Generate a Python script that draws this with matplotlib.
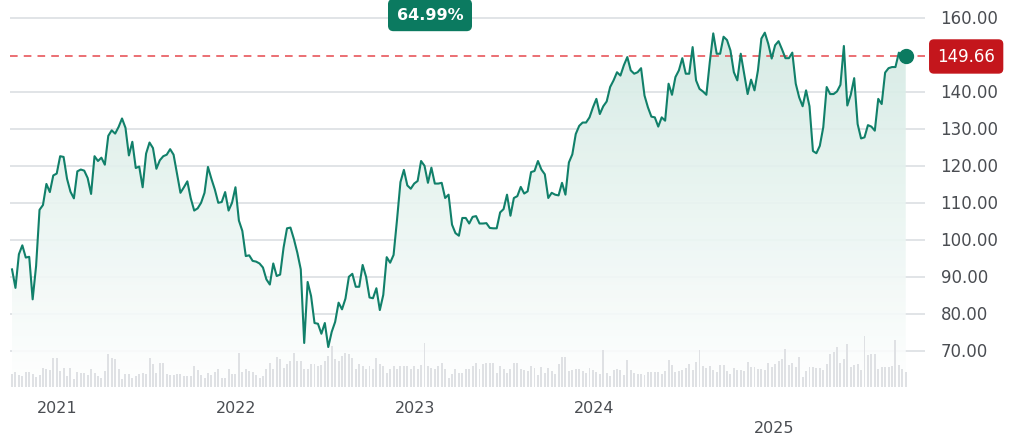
import numpy as np
import pandas as pd
import matplotlib.pyplot as plt
import matplotlib.dates as mdates
from matplotlib.patches import Polygon
from matplotlib.colors import LinearSegmentedColormap

# weekly closes
prices = [
    92.1, 87.1, 96.2, 98.6, 95.3, 95.5, 84.0, 93.0, 108.2, 109.5, 115.2, 113.0, 117.5, 118.0,
    122.7, 122.5, 116.6, 113.1, 111.3, 118.6, 119.1, 118.8, 116.8, 112.5, 122.7, 121.4, 122.3,
    120.4, 128.2, 129.7, 128.8, 130.6, 132.9, 130.4, 122.9, 126.6, 119.5, 119.9, 114.3, 123.4,
    126.4, 124.9, 119.3, 121.6, 122.7, 123.1, 124.6, 123.1, 117.9, 112.8, 114.3, 115.9, 111.3,
    108.0, 108.6, 110.1, 112.8, 119.8, 116.6, 113.7, 110.1, 110.3, 113.0, 108.0, 110.1, 114.3,
    105.3, 102.5, 95.7, 95.9, 94.4, 94.2, 93.7, 92.6, 89.4, 88.0, 93.7, 90.3, 90.7, 98.0,
    103.2, 103.4, 100.3, 96.6, 92.1, 72.2, 88.7, 84.9, 77.6,
    77.4, 74.7, 77.6, 71.1, 75.2, 77.9, 83.1, 81.3, 84.2, 90.1, 90.9, 87.4, 87.4, 93.3, 90.1,
    84.5, 84.3, 87.0, 81.1, 85.2, 95.4, 93.9, 96.0, 105.5, 115.7, 119.0, 114.8, 113.9, 115.3,
    116.0, 121.4, 120.1, 115.5, 119.6, 115.3, 115.3, 115.5, 111.4, 112.3, 104.2, 101.9, 101.2,
    106.0, 106.0, 104.5, 106.3, 106.5, 104.5, 104.5, 104.6, 103.3, 103.2, 103.2, 107.5, 108.4,
    112.3, 106.6, 111.4, 111.9, 114.4, 112.6, 113.2, 118.4, 118.7, 121.4, 119.1, 117.8, 111.4,
    112.8, 112.3, 112.1, 115.5, 112.3, 121.0, 123.2, 128.7, 130.9, 131.8, 131.8, 133.2, 135.9,
    138.2, 134.1, 136.2, 137.5, 141.4, 143.2, 145.4, 144.5,
    147.3, 149.5, 145.9, 145.0, 145.4, 146.5, 139.1, 135.9, 133.4, 133.2, 130.7, 133.2, 132.3,
    142.3, 139.3, 144.1, 145.9, 149.2, 145.0, 145.0, 152.2, 143.2, 140.9, 140.2, 139.3, 148.2,
    155.9, 150.4, 150.4, 155.0, 154.1, 151.3, 145.4, 143.2, 150.4, 145.0, 139.5, 143.4, 140.5,
    145.9, 154.5, 156.1, 153.1, 149.1, 152.7, 153.8, 151.6, 149.2, 149.2, 150.7, 142.3, 138.6,
    136.2, 140.5, 136.2, 124.1, 123.5, 125.5, 130.5, 141.4, 139.5, 139.5, 140.2, 142.0, 152.5,
    136.4, 139.3, 143.8, 131.4, 127.5, 127.8, 131.1, 130.7, 129.6, 138.2, 136.8, 145.3, 146.5,
    146.8, 146.8, 150.7, 149.5, 149.66,
]

# weekly volume (relative units)
volume = [
    13, 15, 12, 11,
    15, 15, 13, 10, 12, 19, 18, 17, 29, 29, 16, 19, 11, 19, 8, 15, 14, 14, 12, 18, 14, 11, 9, 16,
    33, 29, 28, 18, 8, 13, 13, 9, 11, 13, 14, 13, 29, 23, 14, 24, 24, 13, 12, 12, 13, 13, 11, 11,
    11, 21, 17, 12, 9, 14, 12, 15, 18, 9, 9, 18, 13, 13, 34, 15, 18, 16, 15, 12, 9, 11, 18, 24,
    18, 30, 28, 19, 23, 26, 34, 26, 26, 18, 18, 23, 23, 21, 22, 26, 31, 41, 28, 26, 31, 34, 33,
    29, 18, 23, 21, 18, 21, 18, 29, 23, 21, 14, 18, 21, 18, 21, 21, 21, 18, 21, 18, 22, 44, 21,
    19, 18, 21, 24, 18, 9, 13, 18, 14, 14, 18, 18, 21, 24, 18, 23, 24, 24, 24, 14, 21, 18, 14,
    18, 24, 24,
    18, 17, 16, 21, 19, 12, 20, 14, 19, 16, 13, 23, 30, 30, 16, 17, 18, 18, 16, 14, 19, 17, 15,
    13, 37, 14, 11, 17, 18, 17, 12, 27, 17, 14, 13, 13, 12, 15, 15, 15, 15, 13, 16, 27, 22, 15,
    16, 17, 19, 23, 17, 25, 37, 21, 19, 21, 17, 15, 22, 22, 16, 13, 19, 17, 17, 16, 25, 20, 20,
    18, 18, 17, 24, 20, 23, 26, 28, 38, 22, 24, 20, 30, 10, 16, 20, 20, 19, 19, 17, 23, 33, 35,
    40, 24, 28, 43, 20, 22, 23, 17, 51, 32, 33, 33, 18, 20, 20, 20, 21, 47, 22, 18, 15,
]

last_date = "2025-09-26"
last_price = 149.66
change_label = "64.99%"
y_ticks = [70, 80, 90, 100, 110, 120, 130, 140, 150, 160]
years = [2021, 2022, 2023, 2024, 2025]

green = "#11806a"
red = "#c4161c"

dates = pd.date_range(end=last_date, periods=len(prices), freq="7D")
vdates = pd.date_range(end=last_date, periods=len(volume), freq="7D")
x = mdates.date2num(dates)
vx = mdates.date2num(vdates)

fig = plt.figure(figsize=(10.18, 4.39), dpi=100)
ax = fig.add_axes([10 / 1018, 1 - 388 / 439, 915 / 1018, 388 / 439])

px_per_day = 177 / 365.25
ax.set_xlim(x[0] - 2 / px_per_day, x[-1] + 19 / px_per_day)
ymin, ymax = 60.3, 165.2
ax.set_ylim(ymin, ymax)

for t in y_ticks:
    if t != 150:
        ax.axhline(t, color="#dcdfe3", lw=1.2, zorder=0)

# gradient fill under the line
grad = np.linspace(0, 1, 256).reshape(-1, 1)
cmap = LinearSegmentedColormap.from_list("g", ["#ffffff", "#d3eae3"])
img = ax.imshow(grad, cmap=cmap, aspect="auto", origin="lower", alpha=0.9,
                extent=[x[0], x[-1], ymin, max(prices)], zorder=1)
poly = Polygon(np.column_stack([np.r_[x[0], x, x[-1]], np.r_[ymin, prices, ymin]]),
               closed=True, facecolor="none", edgecolor="none", transform=ax.transData)
img.set_clip_path(poly)

# volume bars on a twin axis (pixel-like units), drawn above the fill
vax = ax.twinx()
vax.set_ylim(0, 388)
vax.bar(vx, volume, width=4.0, color="#dfe1e4", zorder=1)
vax.axis("off")

ax.axhline(last_price, color="#e5484d", lw=1.1, ls=(0, (5, 4)), zorder=2)
# line and end dot on the twin so they stay above the bars
scaled = (np.array(prices) - ymin) / (ymax - ymin) * 388
vax.plot(x, scaled, color=green, lw=1.5, zorder=3)
vax.plot(x[-1], scaled[-1], "o", color="#0b7a60", ms=10, zorder=4)

for s in ax.spines.values():
    s.set_visible(False)
ax.set_yticks([])
ax.set_xticks([])

# right-hand price labels
for t in y_ticks:
    if t == 150:
        continue
    ax.text(1.017, t, f"{t:.2f}", transform=ax.get_yaxis_transform(), fontsize=12,
            color="#4a4d52", va="center", ha="left")
ax.text(1.045, last_price, f"{last_price:.2f}", transform=ax.get_yaxis_transform(),
        fontsize=12, color="white", va="center", ha="center",
        bbox=dict(boxstyle="round,pad=0.45,rounding_size=0.25", fc=red, ec=red))

# year labels (last one staggered lower)
for yr in years:
    xd = mdates.date2num(pd.Timestamp(f"{yr}-01-01"))
    ypos = -0.052 if yr != 2025 else -0.105
    ax.text(xd, ypos, str(yr), transform=ax.get_xaxis_transform(), fontsize=11.5,
            color="#4a4d52", ha="center", va="center")

fig.text(430 / 1018, 1 - 16 / 439, change_label, fontsize=11.5, color="white",
         fontweight="bold", ha="center", va="center",
         bbox=dict(boxstyle="round,pad=0.5,rounding_size=0.3", fc="#0b7a60", ec="#0b7a60"))

fig.savefig("out.png", dpi=100)
